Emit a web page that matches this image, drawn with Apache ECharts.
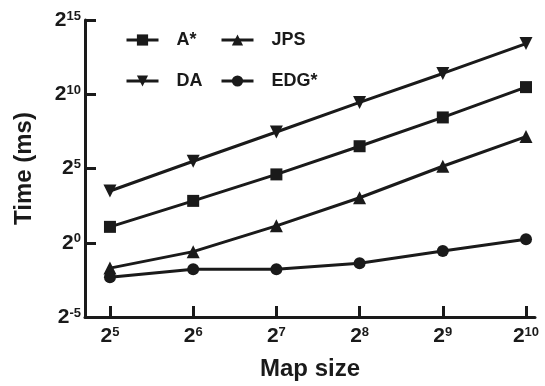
<!DOCTYPE html>
<html>
<head>
<meta charset="utf-8">
<script src="https://cdn.jsdelivr.net/npm/echarts@6/dist/echarts.min.js"></script>
<style>html,body{margin:0;padding:0;background:#fff}#c{width:545px;height:386px}</style>
</head>
<body>
<div id="c"></div>
<script>
// Data (times in ms)
const mapSizes = [32, 64, 128, 256, 512, 1024];
const aStar = [2.10, 7.06, 24.3, 90.5, 347, 1428];
const jps = [0.306, 0.660, 2.20, 8.17, 35.5, 142];
const da = [11.2, 44.9, 176, 699, 2702, 10884];
const edg = [0.200, 0.291, 0.291, 0.384, 0.683, 1.173];
const yTickExps = [-5, 0, 5, 10, 15];

const ink = '#1a1a1a';
const font = 'Liberation Sans, Arial, sans-serif';

function pairs(ys) { return mapSizes.map((x, i) => [x, ys[i]]); }
function supLabel(v) {
  const e = Math.round(Math.log2(v));
  return '{b|2}{s|' + e + '}';
}
const richLab = {
  b: { fontSize: 21, fontWeight: 'bold', fontFamily: font, color: ink, lineHeight: 21 },
  s: { fontSize: 13, fontWeight: 'bold', fontFamily: font, color: ink, lineHeight: 13, verticalAlign: 'top' }
};
function mkSeries(name, ys, symbol, rotate, size) {
  return {
    name: name, type: 'line', data: pairs(ys), symbol: symbol, symbolSize: size,
    symbolRotate: rotate,
    lineStyle: { color: ink, width: 3 },
    itemStyle: { color: ink },
    z: 3
  };
}

const chart = echarts.init(document.getElementById('c'));
const legendCommon = {
  orient: 'vertical', top: 31, padding: 0, itemWidth: 32, itemHeight: 14, itemGap: 23,
  lineStyle: { color: ink, width: 3 },
  itemStyle: { color: ink },
  textStyle: { fontSize: 18, fontWeight: 'bold', fontFamily: font, color: ink, padding: [0, 0, 0, 13] }
};
chart.setOption({
  animation: false,
  backgroundColor: '#fff',
  grid: { left: 85, right: 10, top: 20, bottom: 68 },
  legend: [
    Object.assign({ left: 125, data: ['A*', 'DA'] }, legendCommon),
    Object.assign({ left: 220, data: ['JPS', 'EDG*'] }, legendCommon)
  ],
  xAxis: {
    type: 'log', logBase: 2,
    min: Math.pow(2, 4.70), max: Math.pow(2, 10.108),
    name: 'Map size', nameLocation: 'middle', nameGap: 40,
    nameTextStyle: { fontSize: 24, fontWeight: 'bold', fontFamily: font, color: ink },
    axisLine: { lineStyle: { color: ink, width: 3 } },
    axisTick: { inside: true, length: 11, lineStyle: { color: ink, width: 3 }, customValues: mapSizes },
    axisLabel: { margin: 9, formatter: supLabel, rich: richLab, customValues: mapSizes },
    splitLine: { show: false }, minorTick: { show: false }
  },
  yAxis: {
    type: 'log', logBase: 2,
    min: Math.pow(2, -5), max: Math.pow(2, 15),
    name: 'Time (ms)', nameLocation: 'middle', nameGap: 49,
    nameTextStyle: { fontSize: 24, fontWeight: 'bold', fontFamily: font, color: ink },
    axisLine: { lineStyle: { color: ink, width: 3 } },
    axisTick: { inside: true, length: 11, lineStyle: { color: ink, width: 3 }, customValues: yTickExps.map(e => Math.pow(2, e)) },
    axisLabel: { margin: 4, formatter: supLabel, rich: richLab, customValues: yTickExps.map(e => Math.pow(2, e)) },
    splitLine: { show: false }, minorTick: { show: false }
  },
  series: [
    mkSeries('A*', aStar, 'rect', 0, 12),
    mkSeries('JPS', jps, 'triangle', 0, 13),
    mkSeries('DA', da, 'triangle', 180, 13),
    mkSeries('EDG*', edg, 'circle', 0, 12)
  ]
});
</script>
</body>
</html>
